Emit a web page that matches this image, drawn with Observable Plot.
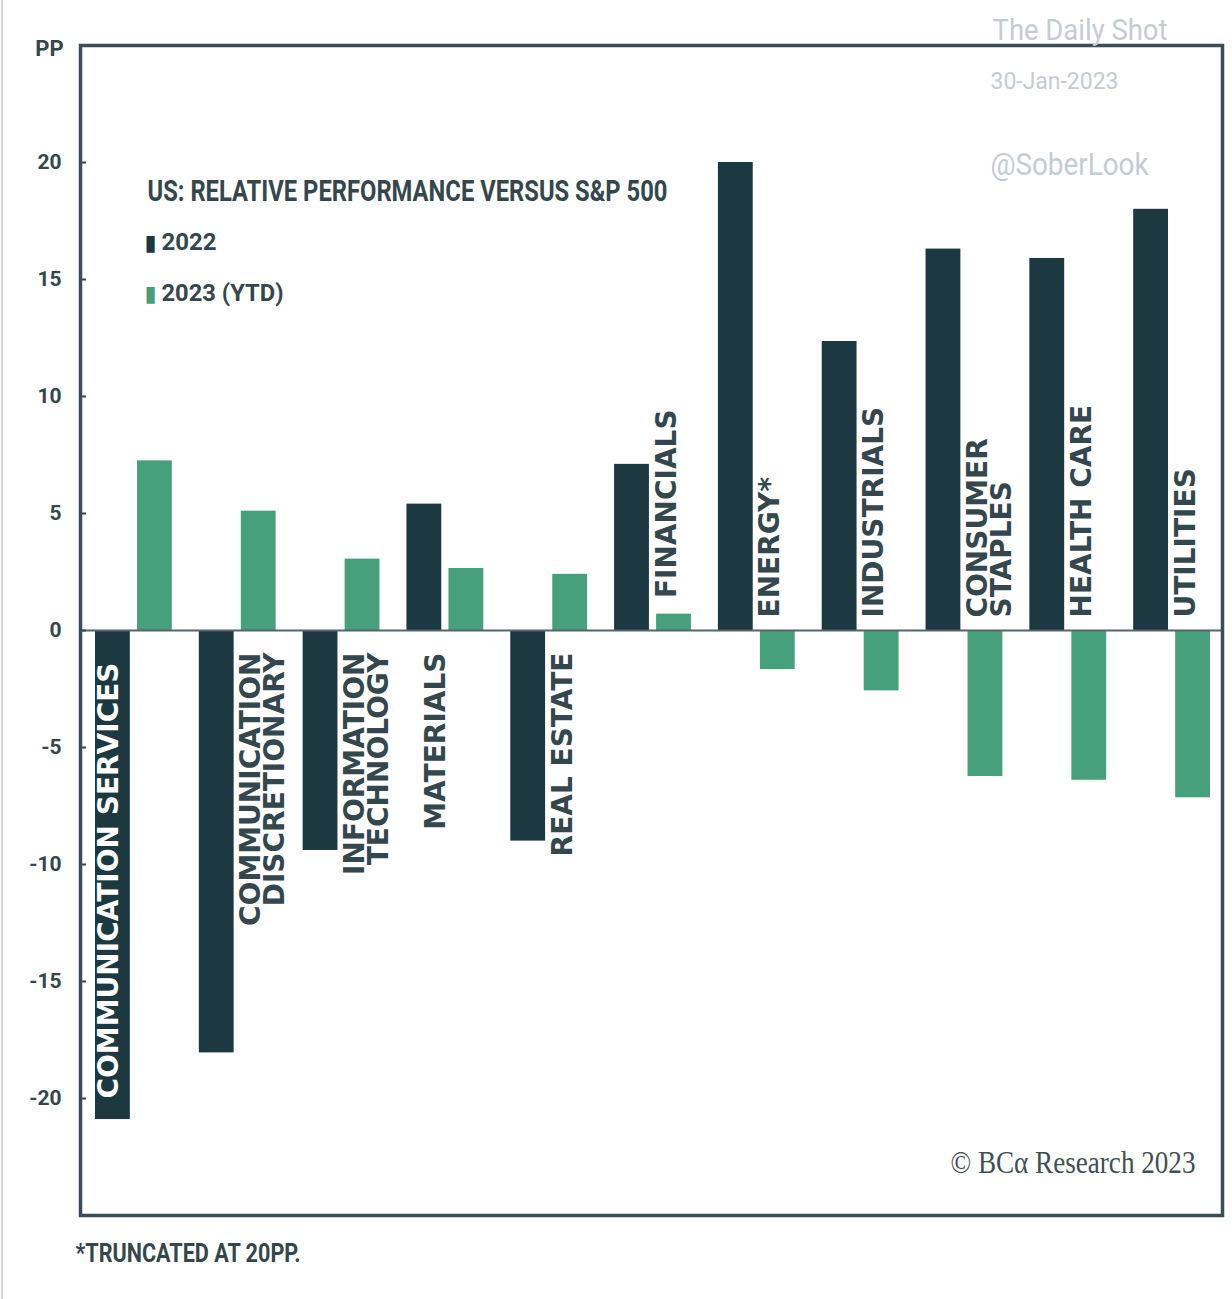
<!DOCTYPE html>
<html>
<head>
<meta charset="utf-8">
<script src="https://cdn.jsdelivr.net/npm/d3@7"></script>
<script src="https://cdn.jsdelivr.net/npm/@observablehq/plot@0.6"></script>
<style>
  html, body { margin: 0; padding: 0; background: #fff; }
  #wrap { position: relative; width: 1232px; height: 1299px; }
  #edge { position: absolute; left: 1px; top: 0; width: 2px; height: 1299px; background: #d6d6d6; }
</style>
</head>
<body>
<div id="wrap"><div id="edge"></div></div>
<script>
// ---- data ----
const sectors = ["COMMUNICATION SERVICES", "COMMUNICATION DISCRETIONARY", "INFORMATION TECHNOLOGY", "MATERIALS", "REAL ESTATE", "FINANCIALS", "ENERGY", "INDUSTRIALS", "CONSUMER STAPLES", "HEALTH CARE", "UTILITIES"];
const sectorLabels = ["COMMUNICATION SERVICES", "COMMUNICATION\nDISCRETIONARY", "INFORMATION\nTECHNOLOGY", "MATERIALS", "REAL ESTATE", "FINANCIALS", "ENERGY*", "INDUSTRIALS", "CONSUMER\nSTAPLES", "HEALTH CARE", "UTILITIES"];
const perf2022 = [-20.9, -18.05, -9.4, 5.4, -9.0, 7.1, 20.0, 12.35, 16.3, 15.9, 18.0];
const perf2023 = [7.25, 5.1, 3.05, 2.65, 2.4, 0.7, -1.67, -2.58, -6.24, -6.4, -7.15];
const yTicks = [-20, -15, -10, -5, 0, 5, 10, 15, 20];
const seriesNames = ["2022", "2023 (YTD)"];
const titleText = "US: RELATIVE PERFORMANCE VERSUS S&P 500";
const footnote = "*TRUNCATED AT 20PP.";
const credit = "© BCα Research 2023";
const watermark = ["The Daily Shot", "30-Jan-2023", "@SoberLook"];

// ---- styling ----
const DARK = "#1c3840";
const GREEN = "#46a07c";
const INK = "#34474d";
const NARROW = "Roboto, 'Liberation Sans', sans-serif";
const WIDE = "'DejaVu Sans', 'Verdana', sans-serif";
const WM = "#c3ccd6";

const rows22 = sectors.map((s, i) => ({sector: s, value: perf2022[i], label: sectorLabels[i], g: perf2023[i]}));
const rows23 = sectors.map((s, i) => ({sector: s, value: perf2023[i]}));

// label marks, one per sector
const labelMarks = rows22.map((d, i) => {
  const above = d.g < 1;
  let dx = 7, fill = INK;
  if (i === 0) { dx = -32; fill = "#ffffff"; }
  if (i === 3) { dx = -16; }
  return Plot.text([d], {
    x: "sector",
    y: r => above ? Math.max(0, r.g) : 0,
    text: "label",
    rotate: -90,
    textAnchor: above ? "start" : "end",
    lineAnchor: "top",
    lineHeight: 0.86,
    dx,
    dy: above ? (i === 5 ? -16 : -13) : (i === 0 ? 32 : 22),
    fill,
    fontFamily: WIDE,
    fontWeight: "bold",
    fontSize: 28
  });
});

function label(str, o) {
  return Plot.text([str], Object.assign({text: d => d, lineAnchor: "middle"}, o));
}

const chart = Plot.plot({
  width: 1232,
  height: 1299,
  marginLeft: 80,
  marginRight: 10,
  marginTop: 45,
  marginBottom: 84,
  x: {domain: sectors, padding: 0, round: false, axis: null},
  y: {domain: [-25, 25], axis: null},
  marks: [
    Plot.barY(rows22, {x: "sector", y: "value", fill: DARK, insetLeft: 15, insetRight: 54}),
    Plot.barY(rows23, {x: "sector", y: "value", fill: GREEN, insetLeft: 57, insetRight: 12}),
    Plot.ruleY([0], {stroke: "#55666b", strokeWidth: 2}),
    Plot.tickY(yTicks, {y: d => d, stroke: INK, strokeWidth: 2, insetRight: 1142 - 6}),
    Plot.frame({stroke: "#3a4f55", strokeWidth: 3.5}),
    Plot.text(yTicks, {y: d => d, text: d => String(d), frameAnchor: "left", textAnchor: "end", lineAnchor: "middle", dx: -19,
      fill: INK, fontFamily: NARROW, fontWeight: "bold", fontSize: 21}),
    label("PP", {frameAnchor: "top-left", textAnchor: "middle", dx: -31, dy: 3,
      fill: INK, fontFamily: NARROW, fontWeight: "bold", fontSize: 22}),
    ...labelMarks,
    // title + legend
    label(titleText, {frameAnchor: "top-left", textAnchor: "start", dx: 67, dy: 146,
      fill: INK, fontFamily: NARROW, fontWeight: "bold", fontSize: 29}),
    label("\u25AE", {frameAnchor: "top-left", textAnchor: "start", dx: 64, dy: 242 - 45,
      fill: DARK, fontFamily: WIDE, fontSize: 22}),
    label(seriesNames[0], {frameAnchor: "top-left", textAnchor: "start", dx: 81, dy: 242 - 45,
      fill: INK, fontFamily: NARROW, fontWeight: "bold", fontSize: 24}),
    label("\u25AE", {frameAnchor: "top-left", textAnchor: "start", dx: 64, dy: 293 - 45,
      fill: GREEN, fontFamily: WIDE, fontSize: 22}),
    label(seriesNames[1], {frameAnchor: "top-left", textAnchor: "start", dx: 81, dy: 293 - 45,
      fill: INK, fontFamily: NARROW, fontWeight: "bold", fontSize: 24}),
    // watermark
    label(watermark[0], {frameAnchor: "top-right", textAnchor: "end", dx: -55, dy: 30 - 45,
      fill: WM, fontFamily: NARROW, fontSize: 29}),
    label(watermark[1], {frameAnchor: "top-right", textAnchor: "end", dx: -104, dy: 81 - 45,
      fill: WM, fontFamily: NARROW, fontSize: 24}),
    label(watermark[2], {frameAnchor: "top-right", textAnchor: "end", dx: -74, dy: 165 - 45,
      fill: WM, fontFamily: NARROW, fontSize: 31}),
    // credit and footnote
    label(credit, {frameAnchor: "bottom-right", textAnchor: "end", dx: -27, dy: 1163 - 1215,
      fill: "#3f4f55", fontFamily: "'Liberation Serif', serif", fontSize: 31}),
    label(footnote, {frameAnchor: "bottom-left", textAnchor: "start", dx: -5, dy: 1253 - 1215,
      fill: INK, fontFamily: NARROW, fontWeight: "bold", fontSize: 25})
  ]
});
document.getElementById("wrap").appendChild(chart);

// condense some texts to the widths seen in the reference
const fitWidths = new Map([
  [titleText, 520], [seriesNames[0], 55], [seriesNames[1], 122],
  [watermark[0], 175], [watermark[1], 128], [watermark[2], 158],
  [credit, 245], [footnote, 225]
]);
d3.select(chart).selectAll("text").each(function () {
  const w = fitWidths.get(this.textContent);
  if (w) {
    this.setAttribute("textLength", w);
    this.setAttribute("lengthAdjust", "spacingAndGlyphs");
  }
});
</script>
</body>
</html>
